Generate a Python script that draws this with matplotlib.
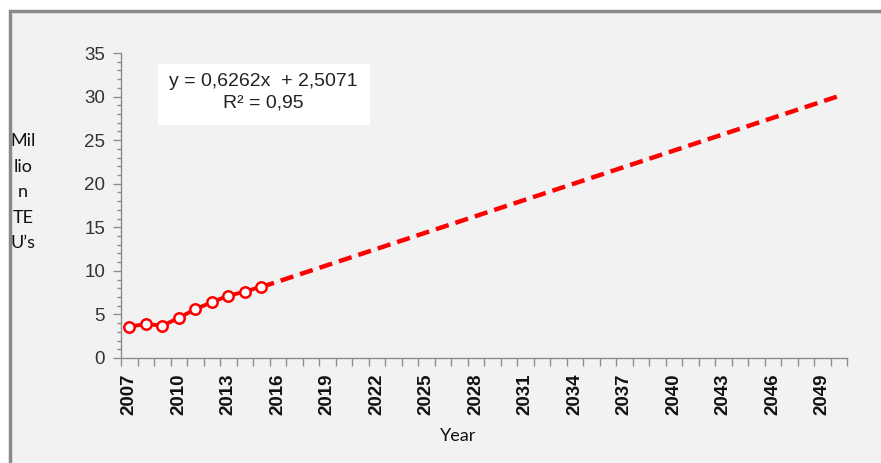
import matplotlib
matplotlib.use("Agg")
import matplotlib.pyplot as plt
from matplotlib.patches import Rectangle
from matplotlib.ticker import FixedLocator, MultipleLocator, NullFormatter
import numpy as np

# Container throughput (million TEU) observed per year
years = list(range(2007, 2051))
observed_years = [2007, 2008, 2009, 2010, 2011, 2012, 2013, 2014, 2015]
observed_teu = [3.6, 3.9, 3.7, 4.6, 5.6, 6.4, 7.15, 7.6, 8.2]

# Linear trend fitted on the category index (1 = 2007)
trend_slope = 0.6262
trend_intercept = 2.5071
trend_r2 = 0.95
forecast_years = [2015, 2050]

tick_label_years = years[::3]

fig = plt.figure(figsize=(8.81, 4.63), dpi=100)
fig.patch.set_facecolor("white")

W, H = 881, 463
frame = Rectangle((10 / W, -0.01), 1.02 - 10 / W, 1 - 11 / H + 0.01,
                  transform=fig.transFigure, facecolor="#f2f2f2",
                  edgecolor="#8a8a8a", linewidth=2.5, zorder=-5)
fig.patches.append(frame)

ax = fig.add_axes([121 / W, 1 - 358 / H, (847 - 121) / W, (358 - 53) / H])
ax.set_facecolor("none")

idx = {y: i + 1 for i, y in enumerate(years)}

obs_x = [idx[y] for y in observed_years]
ax.plot(obs_x, observed_teu, color="#ff0000", linewidth=2.8, marker="o",
        markersize=7.5, markerfacecolor="white", markeredgecolor="#ff0000",
        markeredgewidth=1.8, zorder=3, solid_capstyle="round")

fx = np.array([idx[y] for y in forecast_years], dtype=float)
fy = trend_slope * fx + trend_intercept
ax.plot(fx, fy, color="#ff0000", linewidth=3.2, linestyle=(0, (3.0, 1.6)),
        zorder=2)

ax.set_xlim(0.5, len(years) + 0.5)
ax.set_ylim(0, 35)

for side in ("top", "right"):
    ax.spines[side].set_visible(False)
for side in ("left", "bottom"):
    ax.spines[side].set_color("#8c8c8c")
    ax.spines[side].set_linewidth(1.0)

# y axis: majors every 5, minors every 1
ax.yaxis.set_major_locator(MultipleLocator(5))
ax.yaxis.set_minor_locator(MultipleLocator(1))
ax.tick_params(axis="y", which="major", length=5.5, width=1, color="#8c8c8c",
               labelsize=13.5, labelcolor="#333333", pad=6)
ax.tick_params(axis="y", which="minor", length=3, width=1, color="#8c8c8c")

# x axis: tick marks between categories, labels every third year
ax.xaxis.set_major_locator(FixedLocator(np.arange(0.5, len(years) + 1, 1.0)))
ax.xaxis.set_major_formatter(NullFormatter())
ax.tick_params(axis="x", which="major", length=5.5, width=1, color="#8c8c8c")
ax.xaxis.set_minor_locator(FixedLocator([idx[y] for y in tick_label_years]))
ax.set_xticklabels([str(y) for y in tick_label_years], minor=True,
                   rotation=90, fontsize=13.5, fontweight="bold",
                   family="Liberation Sans")
ax.tick_params(axis="x", which="minor", length=0, pad=11, labelcolor="#111111")

for lbl in ax.get_yticklabels():
    lbl.set_family("Liberation Sans")

fig.text(458 / W, 1 - 436 / H, "Year", ha="center", va="center",
         fontsize=13, family="Lato", color="#111111")

for i, part in enumerate(["Mil", "lio", "n", "TE", "U\u2019s"]):
    fig.text(23 / W, 1 - (141 + i * 25.5) / H, part, ha="center", va="center",
             fontsize=13, family="Lato", color="#111111")

eq_box = Rectangle((158 / W, 1 - 125 / H), (370 - 158) / W, (125 - 64) / H,
                   transform=fig.transFigure, facecolor="white",
                   edgecolor="none", zorder=1)
fig.patches.append(eq_box)
fig.text(263 / W, 1 - 82 / H,
         f"y = {trend_slope:.4f}x  + {trend_intercept:.4f}".replace(".", ","),
         ha="center", va="center", fontsize=14, family="Liberation Sans",
         color="#222222")
fig.text(263 / W, 1 - 103 / H,
         f"R\u00b2 = {trend_r2:.2f}".replace(".", ","),
         ha="center", va="center", fontsize=14, family="Liberation Sans",
         color="#222222")

fig.savefig("out.png", dpi=100, facecolor=fig.get_facecolor())
